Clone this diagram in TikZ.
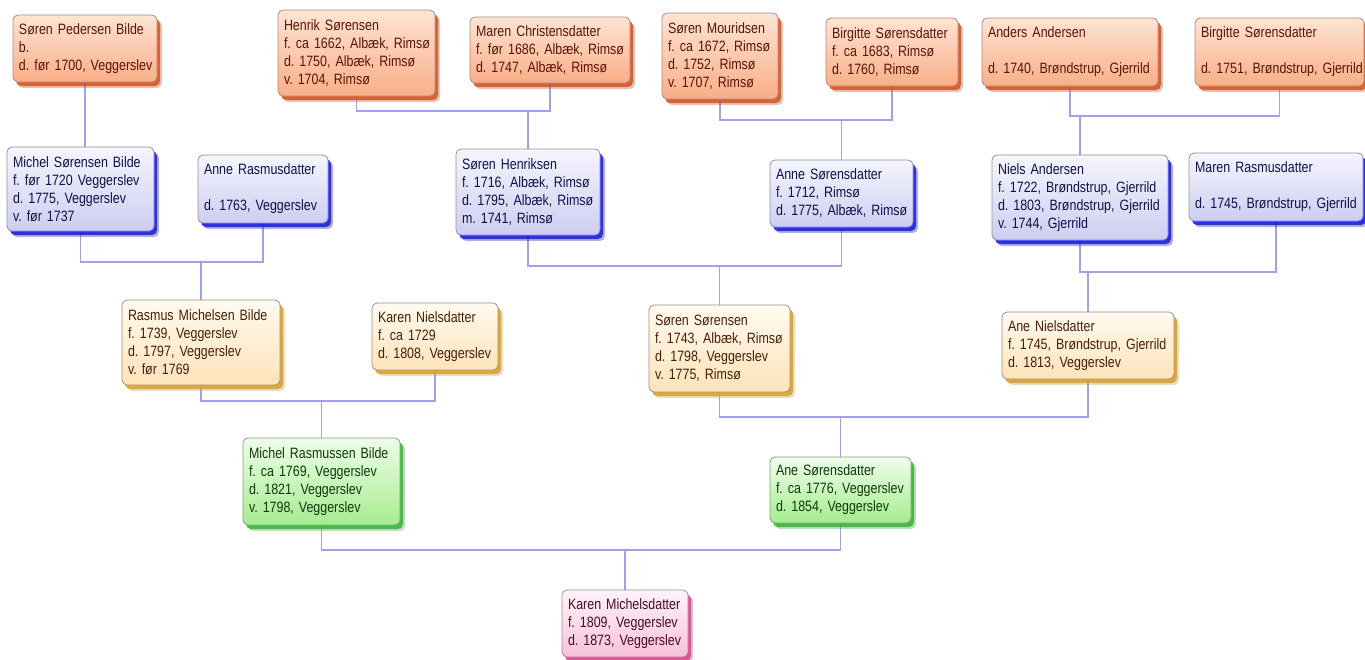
\documentclass[tikz,border=0pt]{standalone}
\usepackage{fontspec}
\setmainfont[FakeStretch=0.83]{Liberation Sans}
\usetikzlibrary{shadows,backgrounds}
\definecolor{oTop}{HTML}{FDE4D4}\definecolor{oBot}{HTML}{F8AE88}\definecolor{oSh}{HTML}{D9501A}\definecolor{oTx}{HTML}{5A1408}
\definecolor{bTop}{HTML}{F5F5FD}\definecolor{bBot}{HTML}{CDCEF0}\definecolor{bSh}{HTML}{1818E8}\definecolor{bTx}{HTML}{10104A}
\definecolor{yTop}{HTML}{FFFAF0}\definecolor{yBot}{HTML}{FCE3BA}\definecolor{ySh}{HTML}{D6A02A}\definecolor{yTx}{HTML}{4A1E0A}
\definecolor{gTop}{HTML}{EEFDEA}\definecolor{gBot}{HTML}{A6EC8E}\definecolor{gSh}{HTML}{30B830}\definecolor{gTx}{HTML}{0E3A0E}
\definecolor{pTop}{HTML}{FFF3F8}\definecolor{pBot}{HTML}{F6C2DA}\definecolor{pSh}{HTML}{E0408C}\definecolor{pTx}{HTML}{4A0A2A}
\definecolor{edge}{HTML}{9A9090}\definecolor{link}{HTML}{A0A0F2}
\newcommand\m[1]{\mbox{#1}}
\tikzset{
  pbox/.style={rectangle, rounded corners=5pt, draw=edge, line width=0.8pt,
    inner xsep=6pt, inner ysep=2pt, align=left, font=\fontsize{15}{18}\selectfont,
    execute at begin node={\frenchspacing}},
  gena/.style={pbox, top color=oTop, bottom color=oBot, text=oTx,
    drop shadow={shadow xshift=5pt, shadow yshift=-6pt, fill=oSh, opacity=0.35},
    drop shadow={shadow xshift=3pt, shadow yshift=-4pt, fill=oSh, opacity=0.85}},
  genb/.style={pbox, top color=bTop, bottom color=bBot, text=bTx,
    drop shadow={shadow xshift=5pt, shadow yshift=-6pt, fill=bSh, opacity=0.35},
    drop shadow={shadow xshift=3pt, shadow yshift=-4pt, fill=bSh, opacity=0.85}},
  genc/.style={pbox, top color=yTop, bottom color=yBot, text=yTx,
    drop shadow={shadow xshift=5pt, shadow yshift=-6pt, fill=ySh, opacity=0.35},
    drop shadow={shadow xshift=3pt, shadow yshift=-4pt, fill=ySh, opacity=0.85}},
  gend/.style={pbox, top color=gTop, bottom color=gBot, text=gTx,
    drop shadow={shadow xshift=5pt, shadow yshift=-6pt, fill=gSh, opacity=0.35},
    drop shadow={shadow xshift=3pt, shadow yshift=-4pt, fill=gSh, opacity=0.85}},
  gene/.style={pbox, top color=pTop, bottom color=pBot, text=pTx,
    drop shadow={shadow xshift=5pt, shadow yshift=-6pt, fill=pSh, opacity=0.35},
    drop shadow={shadow xshift=3pt, shadow yshift=-4pt, fill=pSh, opacity=0.85}},
  conn/.style={draw=link, line width=1.1pt}
}
\newcommand\fambox[7]{%
  \pgfmathsetmacro\bxc{(#3+#5)/2}\pgfmathsetmacro\byc{(#4+#6)/2}%
  \pgfmathsetmacro\bw{#5-#3}\pgfmathsetmacro\bh{#6-#4}\pgfmathsetmacro\btw{#5-#3-12}%
  \node[#2, minimum width=\bw pt, minimum height=\bh pt, text width=\btw pt] (#1) at (\bxc,\byc) {#7};}
\begin{document}
\begin{tikzpicture}[x=1pt,y=-1pt]
\useasboundingbox (0,0) rectangle (1365,659);
% generation 1
\fambox{ga}{gena}{13}{15}{157}{82}{\m{Søren Pedersen Bilde}\\\m{b.}\\\m{d. før 1700, Veggerslev}}
\fambox{gb}{gena}{278}{10}{435}{96}{\m{Henrik Sørensen}\\\m{f. ca 1662, Albæk, Rimsø}\\\m{d. 1750, Albæk, Rimsø}\\\m{v. 1704, Rimsø}}
\fambox{gc}{gena}{470}{17}{630}{83}{\m{Maren Christensdatter}\\\m{f. før 1686, Albæk, Rimsø}\\\m{d. 1747, Albæk, Rimsø}}
\fambox{gd}{gena}{662}{13}{778}{99}{\m{Søren Mouridsen}\\\m{f. ca 1672, Rimsø}\\\m{d. 1752, Rimsø}\\\m{v. 1707, Rimsø}}
\fambox{ge}{gena}{826}{18}{958}{86}{\m{Birgitte Sørensdatter}\\\m{f. ca 1683, Rimsø}\\\m{d. 1760, Rimsø}}
\fambox{gf}{gena}{982}{18}{1158}{86}{\m{Anders Andersen}\\\mbox{}\\\m{d. 1740, Brøndstrup, Gjerrild}}
\fambox{gg}{gena}{1195}{18}{1364}{86}{\m{Birgitte Sørensdatter}\\\mbox{}\\\m{d. 1751, Brøndstrup, Gjerrild}}
% generation 2
\fambox{ha}{genb}{7}{147}{154}{231}{\m{Michel Sørensen Bilde}\\\m{f. før 1720 Veggerslev}\\\m{d. 1775, Veggerslev}\\\m{v. før 1737}}
\fambox{hb}{genb}{198}{155}{328}{223}{\m{Anne Rasmusdatter}\\\mbox{}\\\m{d. 1763, Veggerslev}}
\fambox{hc}{genb}{456}{149}{600}{235}{\m{Søren Henriksen}\\\m{f. 1716, Albæk, Rimsø}\\\m{d. 1795, Albæk, Rimsø}\\\m{m. 1741, Rimsø}}
\fambox{hd}{genb}{770}{160}{913}{227}{\m{Anne Sørensdatter}\\\m{f. 1712, Rimsø}\\\m{d. 1775, Albæk, Rimsø}}
\fambox{he}{genb}{992}{155}{1168}{240}{\m{Niels Andersen}\\\m{f. 1722, Brøndstrup, Gjerrild}\\\m{d. 1803, Brøndstrup, Gjerrild}\\\m{v. 1744, Gjerrild}}
\fambox{hf}{genb}{1189}{153}{1363}{221}{\m{Maren Rasmusdatter}\\\mbox{}\\\m{d. 1745, Brøndstrup, Gjerrild}}
% generation 3
\fambox{ia}{genc}{122}{300}{280}{385}{\m{Rasmus Michelsen Bilde}\\\m{f. 1739, Veggerslev}\\\m{d. 1797, Veggerslev}\\\m{v. før 1769}}
\fambox{ib}{genc}{372}{303}{498}{370}{\m{Karen Nielsdatter}\\\m{f. ca 1729}\\\m{d. 1808, Veggerslev}}
\fambox{ic}{genc}{649}{305}{790}{392}{\m{Søren Sørensen}\\\m{f. 1743, Albæk, Rimsø}\\\m{d. 1798, Veggerslev}\\\m{v. 1775, Rimsø}}
\fambox{id}{genc}{1002}{312}{1174}{379}{\m{Ane Nielsdatter}\\\m{f. 1745, Brøndstrup, Gjerrild}\\\m{d. 1813, Veggerslev}}
% generation 4
\fambox{ja}{gend}{243}{438}{400}{525}{\m{Michel Rasmussen Bilde}\\\m{f. ca 1769, Veggerslev}\\\m{d. 1821, Veggerslev}\\\m{v. 1798, Veggerslev}}
\fambox{jb}{gend}{770}{457}{911}{523}{\m{Ane Sørensdatter}\\\m{f. ca 1776, Veggerslev}\\\m{d. 1854, Veggerslev}}
% generation 5
\fambox{ka}{gene}{562}{590}{688}{657}{\m{Karen Michelsdatter}\\\m{f. 1809, Veggerslev}\\\m{d. 1873, Veggerslev}}
% junction levels
\coordinate (j1) at (0,111);
\coordinate (j2) at (0,120);
\coordinate (j3) at (0,116);
\coordinate (j4) at (0,262);
\coordinate (j5) at (0,266);
\coordinate (j6) at (0,272);
\coordinate (j7) at (0,401);
\coordinate (j8) at (0,417);
\coordinate (j9) at (0,550);
\begin{scope}[on background layer]
\fill[white] (0,0) rectangle (1365,659);
\draw[conn] (ga.south) -- (ga.south |- ha.north);
\draw[conn] (gb.south) -- (gb.south |- j1) -- (gc.south |- j1) -- (gc.south);
\draw[conn] (hc.north) -- (hc.north |- j1);
\draw[conn] (gd.south) -- (gd.south |- j2) -- (ge.south |- j2) -- (ge.south);
\draw[conn] (hd.north) -- (hd.north |- j2);
\draw[conn] (gf.south) -- (gf.south |- j3) -- (gg.south |- j3) -- (gg.south);
\draw[conn] (he.north) -- (he.north |- j3);
\draw[conn] (ha.south) -- (ha.south |- j4) -- (hb.south |- j4) -- (hb.south);
\draw[conn] (ia.north) -- (ia.north |- j4);
\draw[conn] (hc.south) -- (hc.south |- j5) -- (hd.south |- j5) -- (hd.south);
\draw[conn] (ic.north) -- (ic.north |- j5);
\draw[conn] (he.south) -- (he.south |- j6) -- (hf.south |- j6) -- (hf.south);
\draw[conn] (id.north) -- (id.north |- j6);
\draw[conn] (ia.south) -- (ia.south |- j7) -- (ib.south |- j7) -- (ib.south);
\draw[conn] (ja.north) -- (ja.north |- j7);
\draw[conn] (ic.south) -- (ic.south |- j8) -- (id.south |- j8) -- (id.south);
\draw[conn] (jb.north) -- (jb.north |- j8);
\draw[conn] (ja.south) -- (ja.south |- j9) -- (jb.south |- j9) -- (jb.south);
\draw[conn] (ka.north) -- (ka.north |- j9);
\end{scope}
\end{tikzpicture}
\end{document}
